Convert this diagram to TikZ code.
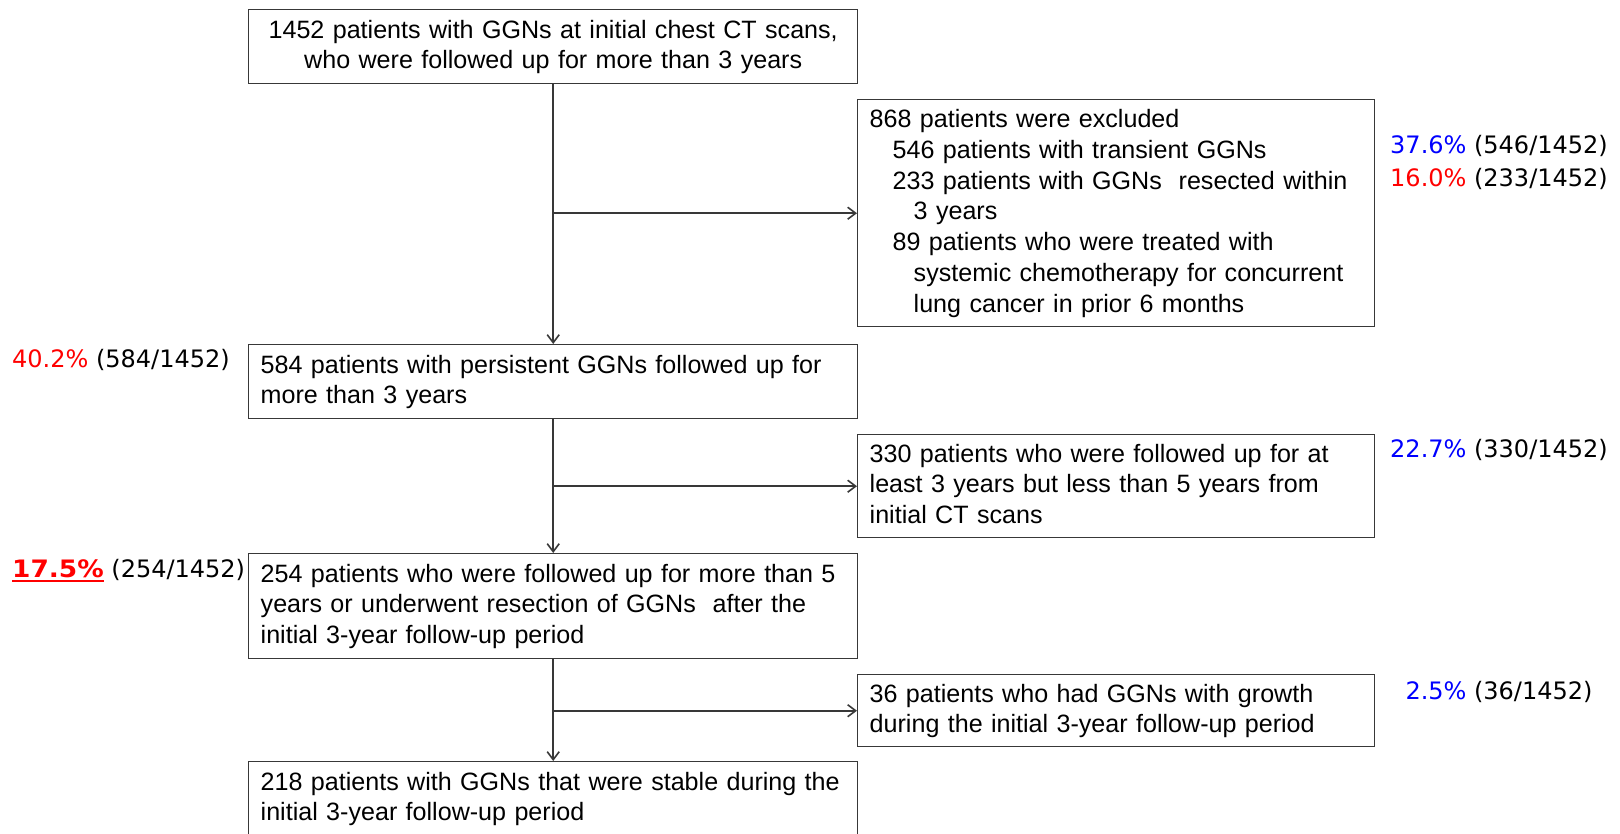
\documentclass[tikz,border=0pt]{standalone}
\usepackage{fontspec}
\usepackage{graphicx}
\setmainfont{Liberation Sans}
\newfontfamily\pctfont{DejaVu Sans}
\usetikzlibrary{arrows.meta}
\definecolor{boxgray}{HTML}{383838}
\newcommand\ulbold[1]{\sbox0{#1}\leavevmode\rlap{\rule[-4.5pt]{\wd0}{2.4pt}}\box0}

\begin{document}
\begin{tikzpicture}[x=1pt,y=-1pt,
    box/.style={draw=boxgray, line width=1.4pt, inner xsep=12pt, inner ysep=0pt,
        anchor=north west, align=left, font=\fontsize{25.1}{30.7}\selectfont,
        execute at begin node={\rule{0pt}{24pt}},
        execute at end node={\rule[-10.5pt]{0pt}{10.5pt}}},
    wide/.style={box, text width=585pt},
    narrow/.style={box, text width=493pt},
    pct/.style={font=\pctfont\fontsize{24}{28}\selectfont, inner sep=0pt},
    flow/.style={draw=boxgray, line width=1.6pt, -{Straight Barb[length=8pt,width=12pt]}}]
    \useasboundingbox (0,0) rectangle (1620,834);
    \node[wide, align=center, minimum height=74pt] (start)   at (248,9)   {1452 patients with GGNs at initial chest CT scans,\\who were followed up for more than 3 years};
    \node[narrow, minimum height=227pt]            (excl)    at (857,99)  {868 patients were excluded\\
        \hspace*{23pt}546 patients with transient GGNs\\
        \hspace*{23pt}233 patients with GGNs\ \ resected within\\
        \hspace*{44pt}3 years\\
        \hspace*{23pt}89 patients who were treated with\\
        \hspace*{44pt}systemic chemotherapy for concurrent\\
        \hspace*{44pt}lung cancer in prior 6 months};
    \node[wide, minimum height=74pt]               (persist) at (248,344) {584 patients with persistent GGNs followed up for\\more than 3 years};
    \node[narrow, minimum height=103pt]            (short)   at (857,434) {330 patients who were followed up for at\\least 3 years but less than 5 years from\\initial CT scans};
    \node[wide, minimum height=105pt]              (long)    at (248,553) {254 patients who were followed up for more than 5\\years or underwent resection of GGNs\ \ after the\\initial 3-year follow-up period};
    \node[narrow, minimum height=72pt]             (growth)  at (857,674) {36 patients who had GGNs with growth\\during the initial 3-year follow-up period};
    \node[wide, minimum height=74pt]               (stable)  at (248,761) {218 patients with GGNs that were stable during the\\initial 3-year follow-up period};

    \node[pct]             (p546) at (1499,146) {\textcolor{blue}{37.6\%} (546/1452)};
    \node[pct]             (p233) at (1499,179) {\textcolor{red}{16.0\%} (233/1452)};
    \node[pct, anchor=west] (p584) at (12,360)   {\textcolor{red}{40.2\%} (584/1452)};
    \node[pct]             (p330) at (1499,450) {\textcolor{blue}{22.7\%} (330/1452)};
    \node[pct, anchor=west] (p254) at (12,571)   {\textcolor{red}{\ulbold{\scalebox{1.1}[1]{\bfseries 17.5\%}}} (254/1452)};
    \node[pct]             (p36)  at (1499,692) {\textcolor{blue}{2.5\%} (36/1452)};

    \draw[flow] (start.south) -- (persist.north);
    \draw[flow] (start.south |- excl.west) -- (excl.west);
    \draw[flow] (persist.south) -- (long.north);
    \draw[flow] (persist.south |- short.west) -- (short.west);
    \draw[flow] (long.south) -- (stable.north);
    \draw[flow] (long.south |- growth.west) -- (growth.west);
\end{tikzpicture}
\end{document}
